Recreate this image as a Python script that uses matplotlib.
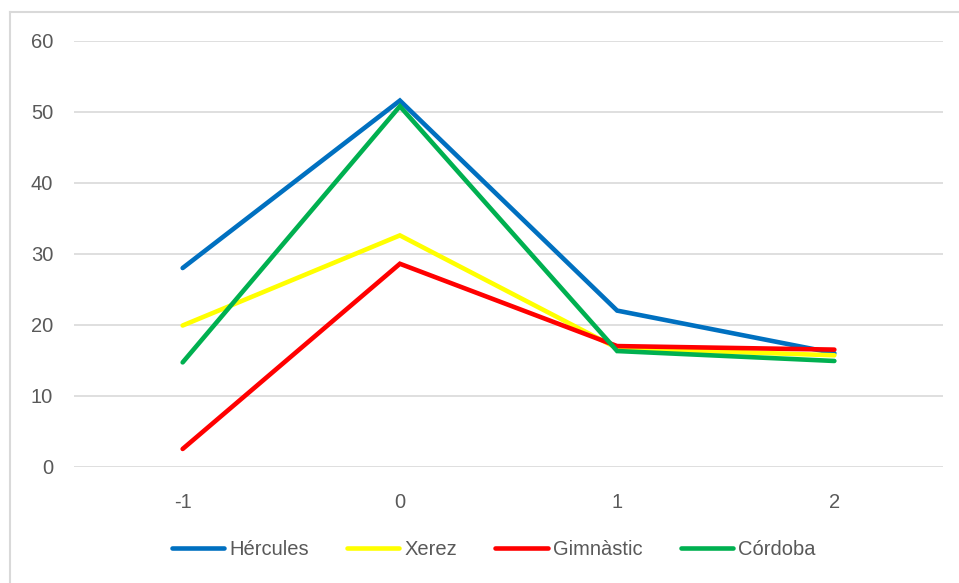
import matplotlib
matplotlib.use("Agg")
import matplotlib.pyplot as plt
from matplotlib.lines import Line2D

# Data
categories = ["-1", "0", "1", "2"]
hercules = [28.0, 51.6, 22.0, 16.0]
xerez = [19.9, 32.6, 16.7, 15.7]
gimnastic = [2.5, 28.6, 17.0, 16.5]
cordoba = [14.7, 50.8, 16.3, 14.9]

series_names = ["Hércules", "Xerez", "Gimnàstic", "Córdoba"]
series_values = [hercules, xerez, gimnastic, cordoba]
series_colors = ["#0070C0", "#FFFF00", "#FF0000", "#00B050"]

yticks = [0, 10, 20, 30, 40, 50, 60]

text_color = "#595959"
grid_color = "#D9D9D9"

plt.rcParams["font.family"] = ["Liberation Sans", "DejaVu Sans"]

fig = plt.figure(figsize=(9.59, 5.83), dpi=100)
ax = fig.add_axes([0.0772, 0.1995, 0.9061, 0.7302])

x = list(range(len(categories)))
for name, vals, col in zip(series_names, series_values, series_colors):
    ax.plot(x, vals, color=col, lw=3.3, solid_capstyle="round",
            solid_joinstyle="miter", label=name, zorder=3)

ax.set_xlim(-0.5, len(categories) - 0.5)
ax.set_ylim(0, 60)
ax.set_yticks(yticks)
ax.set_xticks(x)
ax.set_xticklabels(categories)
ax.yaxis.grid(True, color=grid_color, lw=1.2)
ax.set_axisbelow(True)
for s in ax.spines.values():
    s.set_visible(False)
ax.tick_params(axis="both", length=0, labelsize=14.5, labelcolor=text_color)
ax.tick_params(axis="y", pad=15)
ax.tick_params(axis="x", pad=19)

handles = [Line2D([0], [0], color=c, lw=3.3, solid_capstyle="round")
           for c in series_colors]
fig.legend(handles, series_names, loc="center", bbox_to_anchor=(0.5146, 0.058),
           ncol=4, frameon=False, fontsize=14.5, labelcolor=text_color,
           handlelength=2.6, handletextpad=0.25, columnspacing=1.9)

# Chart area border (top and left edges)
fig.add_artist(Line2D([10 / 959, 10 / 959], [0, 1 - 12 / 583],
                      transform=fig.transFigure, color=grid_color, lw=1.5))
fig.add_artist(Line2D([10 / 959, 1], [1 - 12 / 583, 1 - 12 / 583],
                      transform=fig.transFigure, color=grid_color, lw=1.5))

fig.savefig("out.png", dpi=100, facecolor="white")
